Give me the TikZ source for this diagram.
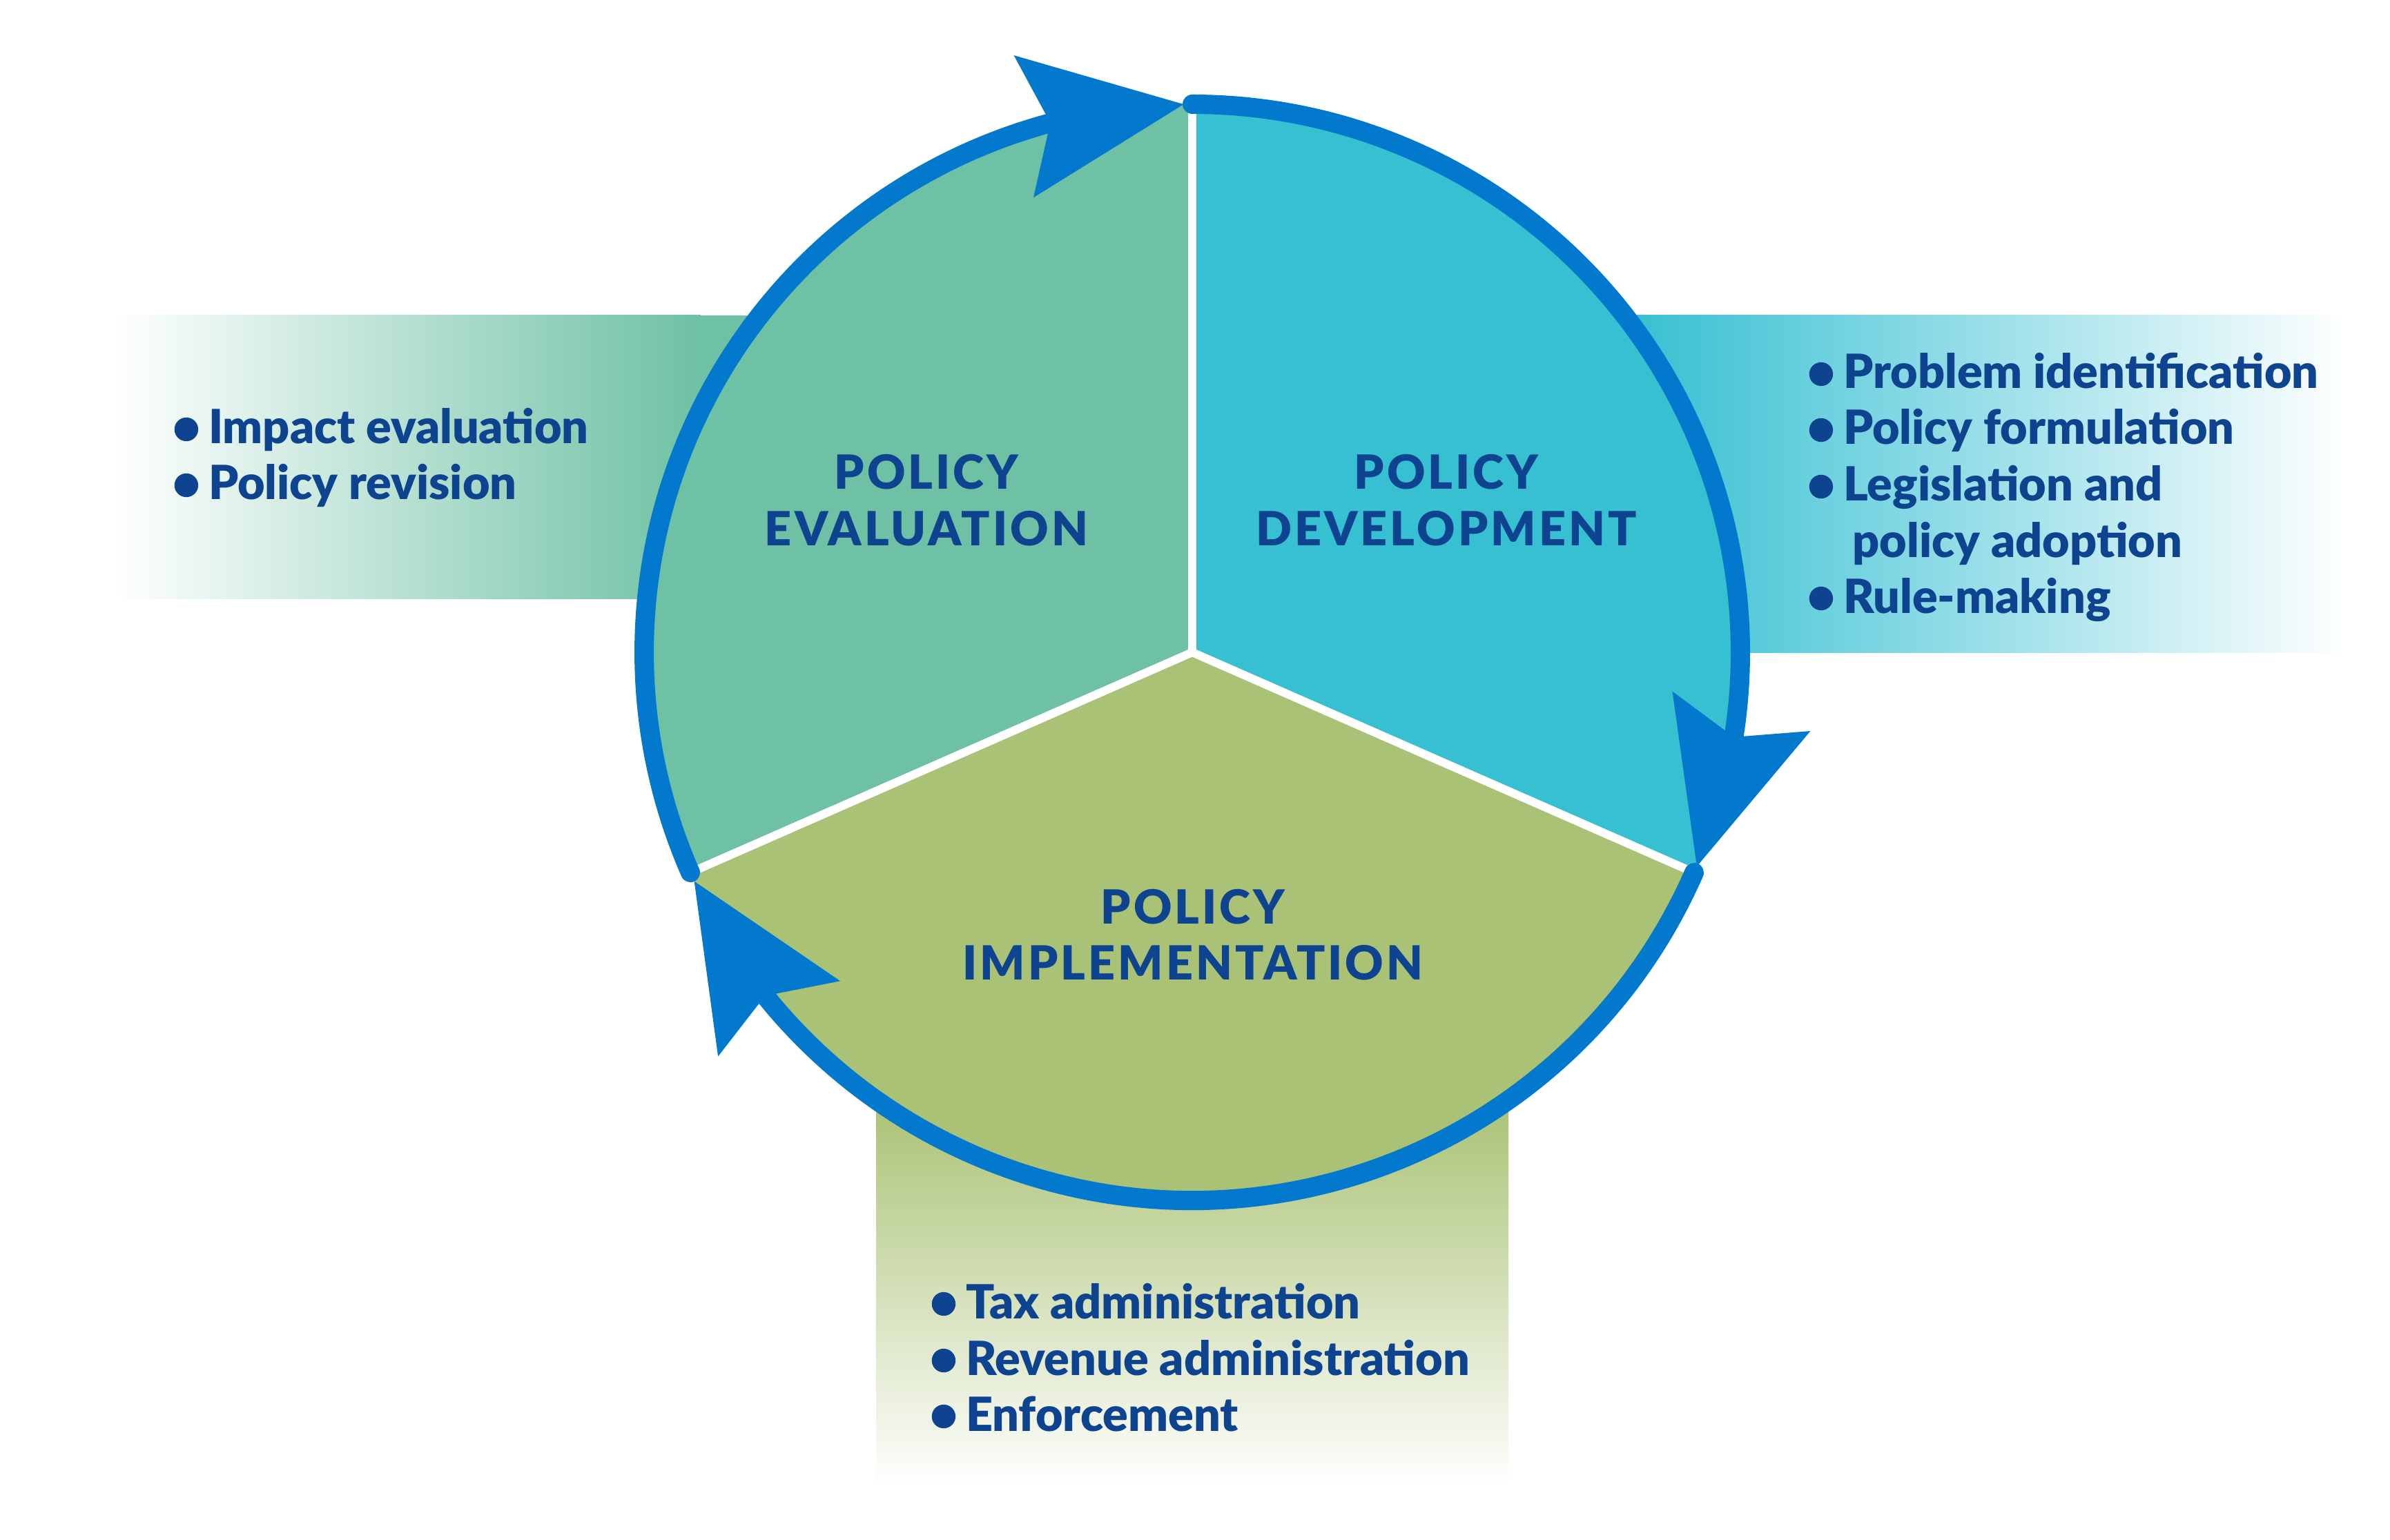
\documentclass[tikz,border=0pt]{standalone}
\usepackage{fontspec}
\setmainfont{Lato}[BoldFont={Lato Black}]
\newfontfamily\titlefont{Lato}[BoldFont={Lato Black},LetterSpace=6]
\usetikzlibrary{arrows.meta,bending,calc}
\definecolor{evalgreen}{HTML}{6EC1A4}
\definecolor{devcyan}{HTML}{37C0D2}
\definecolor{implolive}{HTML}{AAC275}
\definecolor{cycblue}{HTML}{0379CE}
\definecolor{textblue}{HTML}{0E448F}
\newcommand\bul{\tikz[baseline=0pt]\fill[textblue] (0,0.21cm) circle[radius=0.172cm];\hspace{0.15cm}}
\tikzset{
  divider/.style={draw=white, line width=0.12cm},
  cyclearc/.style={draw=cycblue, line width=0.28cm, line cap=round,
    -{Stealth[length=2.34cm,width=2.08cm,inset=0.39cm,line width=0pt,flex]}},
  item/.style={text=textblue, inner sep=0pt, anchor=base west,
    font=\bfseries\fontsize{19.4}{23}\selectfont},
  ttl/.style={text=textblue, inner sep=0pt, anchor=base,
    font=\titlefont\bfseries\fontsize{19.4}{23}\selectfont}
}
\begin{document}
\begin{tikzpicture}
\useasboundingbox (0,0) rectangle (34.62,22.30);
\coordinate (C) at (17.27,12.85);
\def\R{7.94}
\coordinate (top) at ($(C)+(90:\R)$);
\coordinate (pL) at ($(C)+(203.7:\R)$);
\coordinate (pR) at ($(C)+(-23.7:\R)$);
% background bands
\fill[evalgreen] (10.1,13.63) rectangle (11.4,17.73);
\shade[left color=white,right color=evalgreen] (1.66,13.63) rectangle (10.15,17.73);
\fill[devcyan] (22.9,12.85) rectangle (23.7,17.73);
\shade[left color=devcyan,right color=white] (23.66,12.85) rectangle (34.0,17.73);
\fill[implolive] (12.69,6.3) rectangle (21.85,8.6);
\shade[top color=implolive,bottom color=white] (12.69,0.75) rectangle (21.85,6.35);
% sectors
\fill[evalgreen] (C) -- (top) arc[start angle=90,end angle=203.7,radius=\R] -- cycle;
\fill[devcyan] (C) -- (pR) arc[start angle=-23.7,end angle=90,radius=\R] -- cycle;
\fill[implolive] (C) -- (pL) arc[start angle=203.7,end angle=336.3,radius=\R] -- cycle;
\draw[divider] (C) -- (top);
\draw[divider] (C) -- (pL);
\draw[divider] (C) -- (pR);
% cycle arcs
\draw[cyclearc] (pL) arc[start angle=203.7,end angle=90.9,radius=\R];
\draw[cyclearc] (top) arc[start angle=90,end angle=-23.0,radius=\R];
\draw[cyclearc] (pR) arc[start angle=-23.7,end angle=-155.3,radius=\R];
% titles
\node[ttl] (evA) at (13.42,15.21) {POLICY};
\node[ttl] (evB) at (13.42,14.39) {EVALUATION};
\node[ttl] (dvA) at (20.95,15.21) {POLICY};
\node[ttl] (dvB) at (20.95,14.39) {DEVELOPMENT};
\node[ttl] (imA) at (17.28,8.92) {POLICY};
\node[ttl] (imB) at (17.28,8.11) {IMPLEMENTATION};
% left list
\node[item] (l1) at (2.52,15.87) {\bul Impact evaluation};
\node[item] (l2) at (2.52,15.06) {\bul Policy revision};
% right list
\node[item] (r1) at (26.20,16.67) {\bul Problem identification};
\node[item] (r2) at (26.20,15.86) {\bul Policy formulation};
\node[item] (r3) at (26.20,15.04) {\bul Legislation and};
\node[item] (r4) at (26.83,14.22) {policy adoption};
\node[item] (r5) at (26.20,13.42) {\bul Rule-making};
% bottom list
\node[item] (b1) at (13.49,3.20) {\bul Tax administration};
\node[item] (b2) at (13.49,2.38) {\bul Revenue administration};
\node[item] (b3) at (13.49,1.57) {\bul Enforcement};
\end{tikzpicture}
\end{document}
